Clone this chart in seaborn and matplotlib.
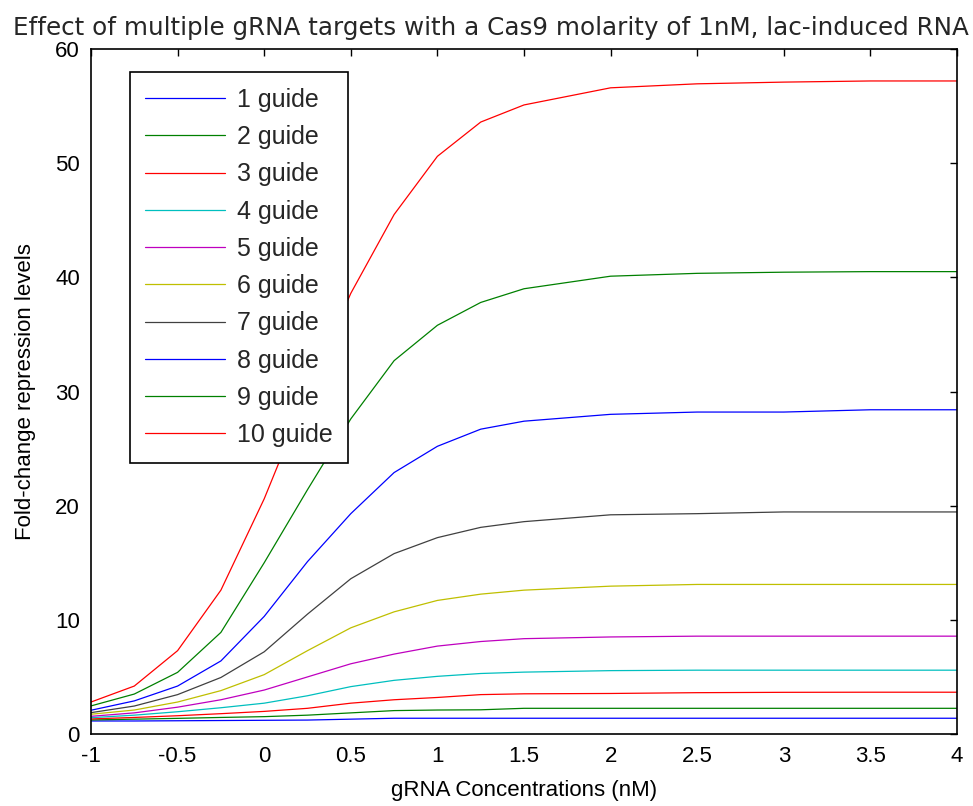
import numpy as np
import pandas as pd
import matplotlib
matplotlib.use("Agg")
import matplotlib.pyplot as plt
import seaborn as sns

# gRNA concentration axis
conc = [-1, -0.75, -0.5, -0.25, 0, 0.25, 0.5, 0.75, 1, 1.25, 1.5, 2, 2.5, 3, 3.5, 4]

# fold-change repression per number of guides
g1 = [1.14, 1.14, 1.16, 1.18, 1.20, 1.22, 1.30, 1.38, 1.38, 1.38, 1.38, 1.38, 1.38, 1.38, 1.38, 1.38]
g2 = [1.23, 1.30, 1.37, 1.45, 1.52, 1.65, 1.85, 2.05, 2.10, 2.12, 2.25, 2.25, 2.25, 2.25, 2.25, 2.25]
g3 = [1.32, 1.45, 1.60, 1.78, 1.98, 2.25, 2.70, 3.00, 3.20, 3.45, 3.52, 3.55, 3.62, 3.65, 3.66, 3.66]
g4 = [1.43, 1.65, 1.95, 2.30, 2.70, 3.35, 4.15, 4.70, 5.05, 5.30, 5.42, 5.55, 5.59, 5.59, 5.59, 5.59]
g5 = [1.55, 1.85, 2.35, 3.00, 3.85, 5.00, 6.15, 7.00, 7.70, 8.10, 8.35, 8.50, 8.57, 8.57, 8.57, 8.57]
g6 = [1.73, 2.10, 2.80, 3.80, 5.20, 7.30, 9.30, 10.7, 11.7, 12.25, 12.6, 12.95, 13.1, 13.1, 13.1, 13.1]
g7 = [1.87, 2.45, 3.45, 4.95, 7.20, 10.5, 13.6, 15.8, 17.2, 18.1, 18.6, 19.2, 19.3, 19.45, 19.45, 19.45]
g8 = [2.08, 2.90, 4.20, 6.40, 10.3, 15.1, 19.3, 22.9, 25.2, 26.7, 27.4, 28.0, 28.2, 28.2, 28.4, 28.4]
g9 = [2.46, 3.50, 5.40, 8.90, 15.0, 21.4, 27.6, 32.7, 35.8, 37.8, 39.0, 40.1, 40.35, 40.45, 40.5, 40.5]
g10 = [2.80, 4.20, 7.30, 12.6, 20.6, 29.9, 38.6, 45.5, 50.6, 53.6, 55.1, 56.6, 56.95, 57.1, 57.2, 57.2]

guides = ["1 guide", "2 guide", "3 guide", "4 guide", "5 guide",
          "6 guide", "7 guide", "8 guide", "9 guide", "10 guide"]
series = [g1, g2, g3, g4, g5, g6, g7, g8, g9, g10]

# matlab-style line colours
colors = ["#0000ff", "#008000", "#ff0000", "#00bfbf", "#bf00bf",
          "#bfbf00", "#404040", "#0000ff", "#008000", "#ff0000"]

rows = []
for name, vals in zip(guides, series):
    for c, v in zip(conc, vals):
        rows.append({"conc": c, "fold": v, "guide": name})
df = pd.DataFrame(rows)

sns.set_style("white")
plt.rcParams["font.family"] = ["Liberation Sans", "DejaVu Sans"]

fig = plt.figure(figsize=(9.73, 8.06), dpi=100)
ax = fig.add_axes([91 / 973, 1 - 734 / 806, 866 / 973, 685 / 806])

sns.lineplot(data=df, x="conc", y="fold", hue="guide", hue_order=guides,
             palette=colors, linewidth=0.9, sort=False, ax=ax)

ax.set_xlim(-1, 4)
ax.set_ylim(0, 60)
xt = [-1, -0.5, 0, 0.5, 1, 1.5, 2, 2.5, 3, 3.5, 4]
ax.set_xticks(xt)
ax.set_xticklabels(["-1", "-0.5", "0", "0.5", "1", "1.5", "2", "2.5", "3", "3.5", "4"])
ax.set_yticks([0, 10, 20, 30, 40, 50, 60])
ax.tick_params(direction="in", top=True, right=True, length=5, width=1,
               labelsize=16, color="black", labelcolor="black")
ax.tick_params(axis="x", pad=9)
ax.tick_params(axis="y", pad=8)
for s in ax.spines.values():
    s.set_color("black")
    s.set_linewidth(1.2)

ax.set_xlabel("gRNA Concentrations (nM)", fontsize=16, labelpad=9, color="black")
ax.set_ylabel("Fold-change repression levels", fontsize=16, labelpad=14, color="black")
fig.text(491 / 973, 1 - 28 / 806, "Effect of multiple gRNA targets with a Cas9 molarity of 1nM, lac-induced RNA",
         ha="center", va="center", fontsize=17.7, family=["DejaVu Sans"])

leg = ax.legend(loc="upper left", bbox_to_anchor=(0.045, 0.966), fontsize=18,
                handlelength=3.2, labelspacing=0.53, handletextpad=0.45,
                borderpad=0.62, borderaxespad=0, frameon=True, fancybox=False,
                framealpha=1)
leg.get_frame().set_edgecolor("black")
leg.get_frame().set_linewidth(1.2)

fig.savefig("out.png", dpi=100)
